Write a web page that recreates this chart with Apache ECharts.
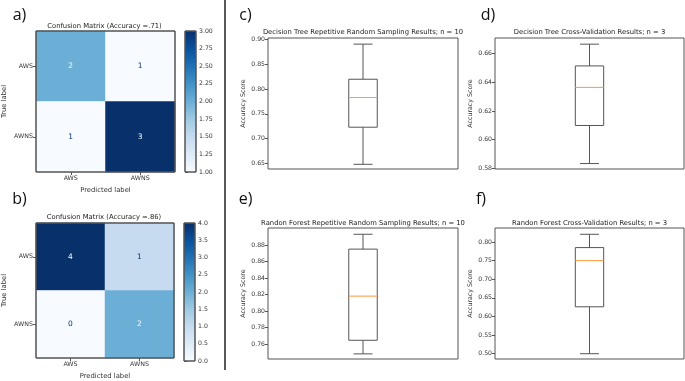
<!DOCTYPE html>
<html>
<head>
<meta charset="utf-8">
<script src="https://cdn.jsdelivr.net/npm/echarts@6/dist/echarts.min.js"></script>
<style>
html,body{margin:0;padding:0;background:#fff;}
#chart{width:685px;height:381px;}
</style>
</head>
<body>
<div id="chart"></div>
<script>
// ---- data ----
const labels = ['AWS', 'AWNS'];
const cmA = [[2, 1], [1, 3]];          // rows: true label, cols: predicted label
const cmB = [[4, 1], [0, 2]];
const cbTicksA = [1.00, 1.25, 1.50, 1.75, 2.00, 2.25, 2.50, 2.75, 3.00];
const cbTicksB = [0.0, 0.5, 1.0, 1.5, 2.0, 2.5, 3.0, 3.5, 4.0];
// five-number summaries [min, Q1, median, Q3, max]
const boxC = [0.648, 0.723, 0.783, 0.820, 0.891];
const boxD = [0.5833, 0.6099, 0.6365, 0.6515, 0.6667];
const boxE = [0.748, 0.7645, 0.818, 0.875, 0.893];
const boxF = [0.500, 0.626, 0.750, 0.785, 0.8207];
const ticksC = [0.65, 0.70, 0.75, 0.80, 0.85, 0.90];
const ticksD = [0.58, 0.60, 0.62, 0.64, 0.66];
const ticksE = [0.76, 0.78, 0.80, 0.82, 0.84, 0.86, 0.88];
const ticksF = [0.50, 0.55, 0.60, 0.65, 0.70, 0.75, 0.80];
const titles = [
  'Confusion Matrix (Accuracy =.71)',
  'Confusion Matrix (Accuracy =.86)',
  'Decision Tree Repetitive Random Sampling Results; n = 10',
  'Decision Tree Cross-Validation Results; n = 3',
  'Randon Forest Repetitive Random Sampling Results; n = 10',
  'Randon Forest Cross-Validation Results; n = 3'
];

// ---- styling ----
const blues = ['#f7fbff','#deebf7','#c6dbef','#9ecae1','#6baed6','#4292c6','#2171b5','#08519c','#08306b'];
const FONT = 'DejaVu Sans';
const frame = '#555';
const txt = '#333';

const chart = echarts.init(document.getElementById('chart'), null, {renderer: 'canvas'});

const grids = [
  {left: 34, top: 31, width: 141, height: 141},   // 0 heatmap a
  {left: 185, top: 31, width: 11, height: 141},   // 1 colorbar a
  {left: 34, top: 223, width: 140, height: 138},  // 2 heatmap b
  {left: 184, top: 223, width: 11, height: 138},  // 3 colorbar b
  {left: 268, top: 38, width: 190, height: 131},  // 4 c
  {left: 495, top: 38, width: 189, height: 131},  // 5 d
  {left: 268, top: 228, width: 190, height: 131}, // 6 e
  {left: 495, top: 228, width: 189, height: 131}  // 7 f
].map(g => Object.assign({show: true, borderColor: frame, borderWidth: 1, backgroundColor: 'transparent', z: 5}, g));

function hmXAxis(gi) {
  return {type: 'category', gridIndex: gi, data: labels,
    axisLine: {show: false}, splitLine: {show: false}, splitArea: {show: false},
    axisTick: {show: true, alignWithLabel: true, length: 3, lineStyle: {color: frame}},
    axisLabel: {fontSize: 6.3, color: txt, margin: 3, fontFamily: FONT},
    name: 'Predicted label', nameLocation: 'middle', nameGap: 15,
    nameTextStyle: {fontSize: 6.8, color: txt, fontFamily: FONT}};
}
function hmYAxis(gi) {
  return {type: 'category', gridIndex: gi, data: labels, inverse: true,
    axisLine: {show: false}, splitLine: {show: false}, splitArea: {show: false},
    axisTick: {show: true, alignWithLabel: true, length: 3, lineStyle: {color: frame}},
    axisLabel: {fontSize: 6.3, color: txt, margin: 3, fontFamily: FONT},
    name: 'True label', nameLocation: 'middle', nameGap: 28, nameRotate: 90,
    nameTextStyle: {fontSize: 6.8, color: txt, fontFamily: FONT}};
}
function hiddenX(gi, min, max) {
  return {type: 'value', gridIndex: gi, min: min, max: max, show: false};
}
function valueY(gi, min, max, ticks, digits, pos, name) {
  const ax = {type: 'value', gridIndex: gi, min: min, max: max, position: pos,
    axisLine: {show: false}, splitLine: {show: false},
    axisTick: {show: true, length: 3, customValues: ticks, lineStyle: {color: frame}},
    axisLabel: {show: true, customValues: ticks, fontSize: 6.2, color: txt, margin: 3, fontFamily: FONT,
      formatter: v => Number(v).toFixed(digits)}};
  if (name) {
    ax.name = name; ax.nameLocation = 'middle'; ax.nameGap = 22; ax.nameRotate = 90;
    ax.nameTextStyle = {fontSize: 6.3, color: txt, fontFamily: FONT};
  }
  return ax;
}

function hmData(cm) {
  const vals = cm.flat();
  const mn = Math.min(...vals), mx = Math.max(...vals);
  const thresh = (mn + mx) / 2;
  const out = [];
  cm.forEach((row, t) => row.forEach((v, p) => {
    out.push({value: [p, t, v], label: {color: v < thresh ? '#08306b' : '#f7fbff'}});
  }));
  return out;
}

function cbRender(params, api) {
  const top = api.coord([0, api.value(1)]);
  const bot = api.coord([1, api.value(0)]);
  return {type: 'rect',
    shape: {x: top[0], y: top[1], width: bot[0] - top[0], height: bot[1] - top[1]},
    style: {fill: new echarts.graphic.LinearGradient(0, 1, 0, 0,
      blues.map((c, i) => ({offset: i / (blues.length - 1), color: c})))}};
}

function frameRender(params, api) {
  const cs = params.coordSys;
  return {type: 'rect', z2: 100,
    shape: {x: cs.x, y: cs.y, width: cs.width, height: cs.height},
    style: {stroke: frame, lineWidth: 1, fill: null}};
}

function boxRender(params, api) {
  const x = api.value(0);
  const mn = api.value(1), q1 = api.value(2), md = api.value(3), q3 = api.value(4), mx = api.value(5);
  const hw = 0.075, cw = 0.05;
  const tl = api.coord([x - hw, q3]), br = api.coord([x + hw, q1]);
  const mL = api.coord([x - hw, md]), mR = api.coord([x + hw, md]);
  const cTop = api.coord([x, mx]), cQ3 = api.coord([x, q3]), cQ1 = api.coord([x, q1]), cBot = api.coord([x, mn]);
  const capL1 = api.coord([x - cw, mx]), capR1 = api.coord([x + cw, mx]);
  const capL2 = api.coord([x - cw, mn]), capR2 = api.coord([x + cw, mn]);
  const ls = {stroke: '#555', lineWidth: 1, fill: null};
  return {type: 'group', children: [
    {type: 'line', shape: {x1: cTop[0], y1: cTop[1], x2: cQ3[0], y2: cQ3[1]}, style: ls},
    {type: 'line', shape: {x1: cQ1[0], y1: cQ1[1], x2: cBot[0], y2: cBot[1]}, style: ls},
    {type: 'line', shape: {x1: capL1[0], y1: capL1[1], x2: capR1[0], y2: capR1[1]}, style: ls},
    {type: 'line', shape: {x1: capL2[0], y1: capL2[1], x2: capR2[0], y2: capR2[1]}, style: ls},
    {type: 'rect', shape: {x: tl[0], y: tl[1], width: br[0] - tl[0], height: br[1] - tl[1]}, style: ls},
    {type: 'line', shape: {x1: mL[0], y1: mL[1], x2: mR[0], y2: mR[1]}, style: {stroke: '#ff9a3c', lineWidth: 1}}
  ]};
}

function boxSeries(gi, stats) {
  return {type: 'custom', xAxisIndex: gi, yAxisIndex: gi, renderItem: boxRender,
    data: [[1].concat(stats)], encode: {x: 0, y: [1, 2, 3, 4, 5]}, silent: true};
}

function textEl(text, x, y, size, family, color) {
  return {type: 'text', x: x, y: y, silent: true, z: 100,
    style: {text: text, fill: color || '#222', font: size + 'px "' + (family || FONT) + '"',
      align: 'center', verticalAlign: 'middle'}};
}

const option = {
  animation: false,
  textStyle: {fontFamily: FONT},
  grid: grids,
  xAxis: [
    hmXAxis(0), hiddenX(1, 0, 1), hmXAxis(2), hiddenX(3, 0, 1),
    hiddenX(4, 0.5, 1.5), hiddenX(5, 0.5, 1.5), hiddenX(6, 0.5, 1.5), hiddenX(7, 0.5, 1.5)
  ],
  yAxis: [
    hmYAxis(0),
    valueY(1, 1, 3, cbTicksA, 2, 'right'),
    hmYAxis(2),
    valueY(3, 0, 4, cbTicksB, 1, 'right'),
    valueY(4, 0.6385, 0.9034, ticksC, 2, 'left', 'Accuracy Score'),
    valueY(5, 0.5795, 0.671, ticksD, 2, 'left', 'Accuracy Score'),
    valueY(6, 0.7418, 0.9006, ticksE, 2, 'left', 'Accuracy Score'),
    valueY(7, 0.4858, 0.8376, ticksF, 2, 'left', 'Accuracy Score')
  ],
  visualMap: [
    {show: false, type: 'continuous', min: 1, max: 3, dimension: 2, seriesIndex: 0, inRange: {color: blues}},
    {show: false, type: 'continuous', min: 0, max: 4, dimension: 2, seriesIndex: 1, inRange: {color: blues}}
  ],
  series: [
    {type: 'heatmap', xAxisIndex: 0, yAxisIndex: 0, data: hmData(cmA),
      label: {show: true, fontSize: 7.5, fontFamily: FONT, formatter: p => p.value[2]}, itemStyle: {borderWidth: 0}},
    {type: 'heatmap', xAxisIndex: 2, yAxisIndex: 2, data: hmData(cmB),
      label: {show: true, fontSize: 7.5, fontFamily: FONT, formatter: p => p.value[2]}, itemStyle: {borderWidth: 0}},
    {type: 'custom', xAxisIndex: 1, yAxisIndex: 1, renderItem: cbRender, data: [[1, 3]], encode: {y: [0, 1]}, silent: true},
    {type: 'custom', xAxisIndex: 3, yAxisIndex: 3, renderItem: cbRender, data: [[0, 4]], encode: {y: [0, 1]}, silent: true},
    boxSeries(4, boxC), boxSeries(5, boxD), boxSeries(6, boxE), boxSeries(7, boxF),
    {type: 'custom', xAxisIndex: 0, yAxisIndex: 0, z: 20, renderItem: frameRender, data: [[0, 0]], silent: true},
    {type: 'custom', xAxisIndex: 2, yAxisIndex: 2, z: 20, renderItem: frameRender, data: [[0, 0]], silent: true},
    {type: 'custom', xAxisIndex: 1, yAxisIndex: 1, z: 20, renderItem: frameRender, data: [[0, 1]], silent: true},
    {type: 'custom', xAxisIndex: 3, yAxisIndex: 3, z: 20, renderItem: frameRender, data: [[0, 0]], silent: true}
  ],
  graphic: [
    {type: 'line', shape: {x1: 225, y1: 0, x2: 225, y2: 370}, style: {stroke: '#222', lineWidth: 1.5}, silent: true},
    textEl(titles[0], 104.5, 26, 6.8),
    textEl(titles[1], 104, 217, 6.8),
    textEl(titles[2], 363, 32.5, 6.8),
    textEl(titles[3], 589.5, 32.5, 6.8),
    textEl(titles[4], 363, 223, 6.8),
    textEl(titles[5], 589.5, 223, 6.8),
    textEl('a)', 19.5, 15.5, 16, 'Open Sans', '#111'),
    textEl('b)', 19.5, 199, 16, 'Open Sans', '#111'),
    textEl('c)', 245.5, 15.5, 16, 'Open Sans', '#111'),
    textEl('d)', 488, 15.5, 16, 'Open Sans', '#111'),
    textEl('e)', 245.5, 199.5, 16, 'Open Sans', '#111'),
    textEl('f)', 481, 199.5, 16, 'Open Sans', '#111')
  ]
};
chart.setOption(option);
</script>
</body>
</html>
